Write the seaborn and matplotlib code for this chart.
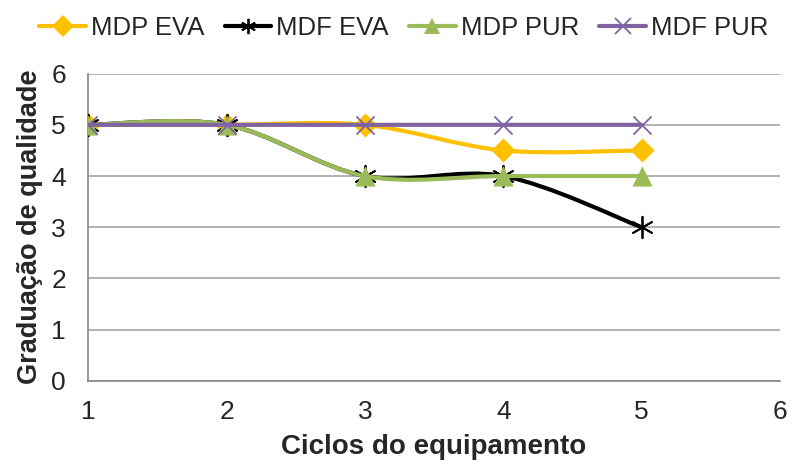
import pandas as pd
import matplotlib.pyplot as plt
import seaborn as sns
from matplotlib.path import Path
from matplotlib.patches import PathPatch
from matplotlib.lines import Line2D

# Dados
ciclos = [1, 2, 3, 4, 5]
mdp_eva = [5, 5, 5, 4.5, 4.5]
mdf_eva = [5, 5, 4, 4, 3]
mdp_pur = [5, 5, 4, 4, 4]
mdf_pur = [5, 5, 5, 5, 5]

series = ["MDP EVA", "MDF EVA", "MDP PUR", "MDF PUR"]
cores = {"MDP EVA": "#FFC000", "MDF EVA": "#000000",
         "MDP PUR": "#9BBB59", "MDF PUR": "#8064A2"}
marcadores = {"MDP EVA": "D", "MDF EVA": (6, 2, 0),
              "MDP PUR": "^", "MDF PUR": "x"}
tamanhos = {"MDP EVA": 150, "MDF EVA": 240, "MDP PUR": 210, "MDF PUR": 170}

df = pd.DataFrame({
    "Ciclo": ciclos * 4,
    "Nota": mdp_eva + mdf_eva + mdp_pur + mdf_pur,
    "Serie": [s for s in series for _ in ciclos],
})

sns.set_style("white")
plt.rcParams["font.family"] = ["Liberation Sans", "DejaVu Sans"]

fig, ax = plt.subplots(figsize=(7.95, 4.69), dpi=100)
fig.subplots_adjust(left=0.111, right=0.981, top=0.843, bottom=0.188)


def curva_suave(xs, ys):
    # linha suavizada tipo Excel (Bezier com tangentes Catmull-Rom)
    pts = list(zip(xs, ys))
    verts = [pts[0]]
    codes = [Path.MOVETO]
    n = len(pts)
    for i in range(n - 1):
        p0 = pts[i - 1] if i > 0 else pts[i]
        p1 = pts[i]
        p2 = pts[i + 1]
        p3 = pts[i + 2] if i + 2 < n else pts[i + 1]
        c1 = (p1[0] + (p2[0] - p0[0]) / 6, p1[1] + (p2[1] - p0[1]) / 6)
        c2 = (p2[0] - (p3[0] - p1[0]) / 6, p2[1] - (p3[1] - p1[1]) / 6)
        verts += [c1, c2, p2]
        codes += [Path.CURVE4] * 3
    return Path(verts, codes)


for z, s in enumerate(series):
    sub = df[df["Serie"] == s]
    patch = PathPatch(curva_suave(sub["Ciclo"].tolist(), sub["Nota"].tolist()),
                      facecolor="none", edgecolor=cores[s], lw=3.0,
                      capstyle="round", joinstyle="round", zorder=2 + 2 * z)
    ax.add_patch(patch)
    sns.scatterplot(data=sub, x="Ciclo", y="Nota", color=cores[s],
                    marker=marcadores[s], s=tamanhos[s], ax=ax,
                    linewidth=1.3 if s in ("MDF EVA", "MDF PUR") else 0,
                    edgecolor=cores[s], zorder=3 + 2 * z, legend=False)

ax.set_xlim(1, 6)
ax.set_ylim(0, 6)
ax.set_xticks(range(1, 7))
ax.set_yticks(range(0, 7))
ax.tick_params(axis="both", direction="in", length=8, color="#868686",
               labelsize=19)
ax.tick_params(axis="x", pad=14)
ax.tick_params(axis="y", pad=16)
ax.yaxis.grid(True, color="#A6A6A6", lw=1.2)
ax.set_axisbelow(True)
for lado in ["top", "right"]:
    ax.spines[lado].set_visible(False)
for lado in ["left", "bottom"]:
    ax.spines[lado].set_color("#868686")
    ax.spines[lado].set_linewidth(1.2)

ax.set_xlabel("Ciclos do equipamento", fontsize=20, fontweight="bold", labelpad=7)
ax.set_ylabel("Graduação de qualidade", fontsize=19.5, fontweight="bold", labelpad=6)

handles = [Line2D([0], [0], color=cores[s], lw=3.0, marker=marcadores[s],
                  markersize=11, markeredgewidth=1.3 if s in ("MDF EVA", "MDF PUR") else 0,
                  markerfacecolor=cores[s], markeredgecolor=cores[s])
           for s in series]
fig.legend(handles, series, loc="upper center", bbox_to_anchor=(0.508, 1.015),
           ncol=4, frameon=False, fontsize=18.5, handlelength=1.8,
           handletextpad=0.2, columnspacing=0.8)

plt.savefig("out.png", dpi=100)
plt.close()
